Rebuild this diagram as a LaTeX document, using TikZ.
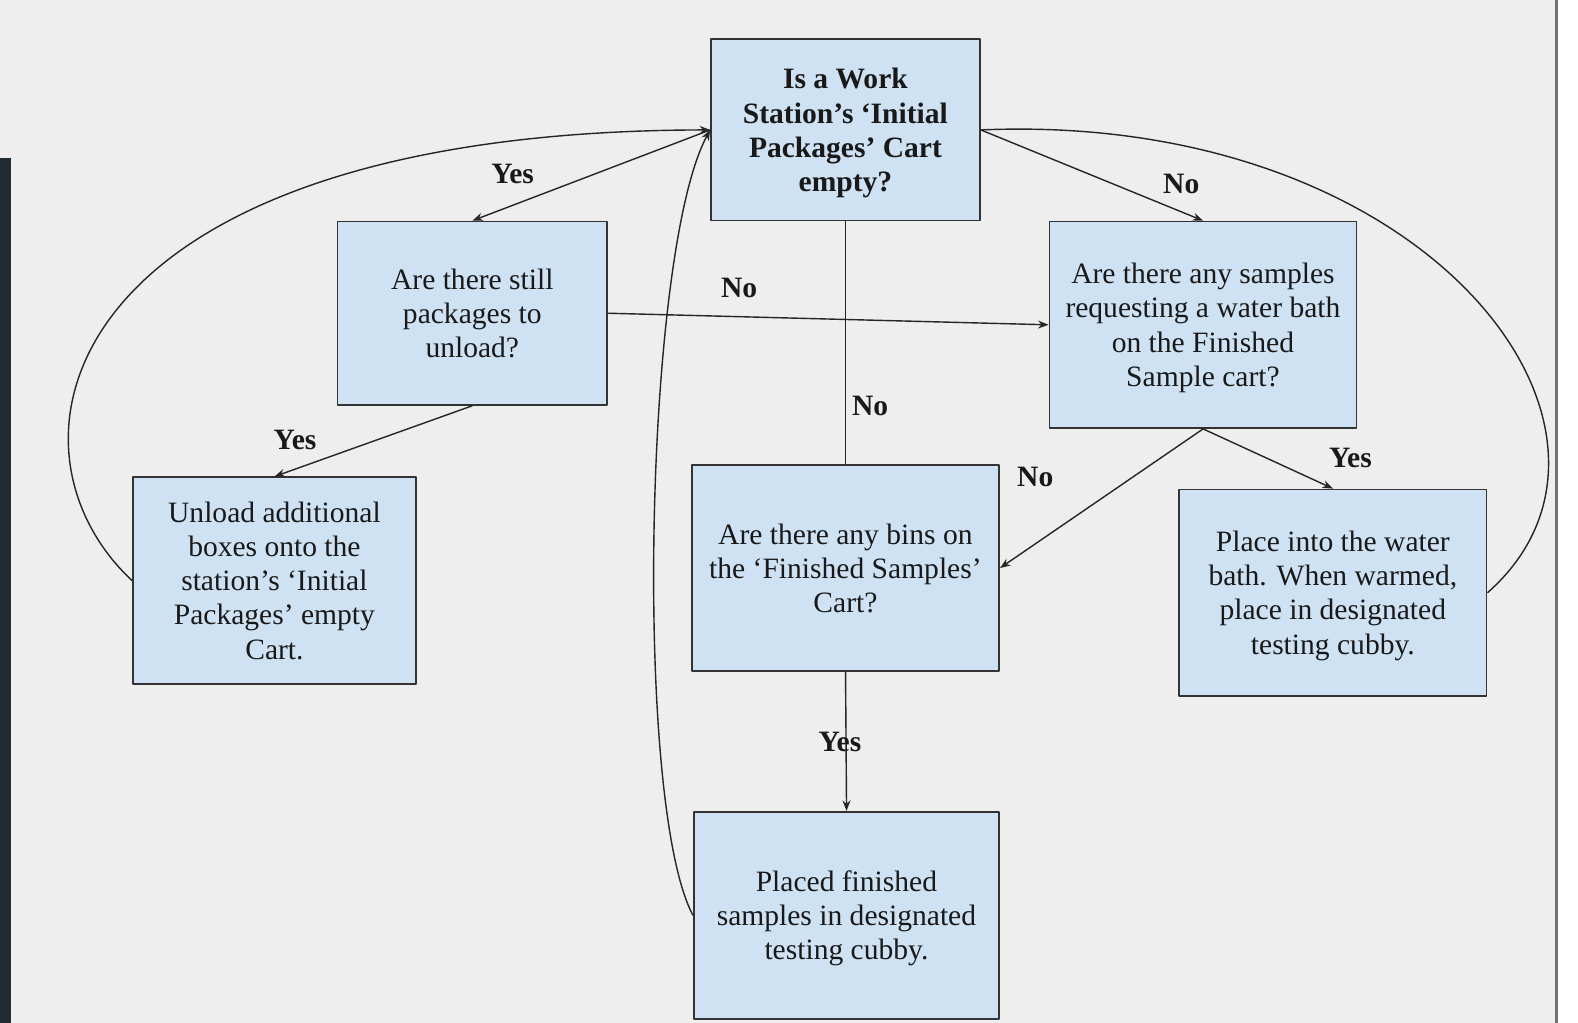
\documentclass[tikz,border=0pt]{standalone}
\usepackage{fontspec}
\setmainfont{Liberation Serif}
\usetikzlibrary{arrows.meta}
\definecolor{boxblue}{HTML}{CFE2F3}
\definecolor{canvas}{HTML}{EEEEEE}
\definecolor{darkstrip}{HTML}{222A33}
\definecolor{inkline}{HTML}{333333}
\tikzset{
  box/.style={draw=inkline,line width=1pt,fill=boxblue,align=center,inner sep=0pt,
    text depth=0pt,text=black!90,font=\fontsize{16.7}{19.3}\selectfont},
  ans/.style={text=black!90,font=\fontsize{16.7}{19.3}\selectfont\bfseries},
  link/.style={draw=black!85,line width=0.8pt,-{Stealth[length=6pt,width=4.5pt]}},
  bare/.style={draw=black!85,line width=0.8pt},
}
\begin{document}
\begin{tikzpicture}[x=0.02cm,y=-0.02cm,line join=round]
  \useasboundingbox (0,0) rectangle (1578,1023);
  \fill[canvas] (0,0) rectangle (1556,1023);
  \fill[white] (1557,0) rectangle (1578,1023);
  \fill[black!55] (1555,0) rectangle (1557.5,1023);
  \fill[darkstrip] (0,158) rectangle (11,1023);
  \begin{scope}[scale=1.00705,transform shape]
  \node[box,minimum width=5.34cm,minimum height=3.60cm] (Q1) at (839.5,129)
    {\bfseries Is a Work\\\bfseries Station’s ‘Initial\\\bfseries Packages’ Cart\\\bfseries empty?};
  \node[box,minimum width=5.36cm,minimum height=3.64cm] (Q2) at (469,311)
    {Are there still\\packages to\\unload?};
  \node[box,minimum width=6.10cm,minimum height=4.10cm] (Q3) at (1194.5,322.5)
    {Are there any samples\\requesting a water bath\\on the Finished\\Sample cart?};
  \node[box,minimum width=5.62cm,minimum height=4.10cm] (A1) at (272.5,576.5)
    {Unload additional\\boxes onto the\\station’s ‘Initial\\Packages’ empty\\Cart.};
  \node[box,minimum width=6.10cm,minimum height=4.08cm] (Q4) at (839.5,564)
    {Are there any bins on\\the ‘Finished Samples’\\Cart?};
  \node[box,minimum width=6.10cm,minimum height=4.10cm] (A2) at (1323.5,588.5)
    {Place into the water\\bath. When warmed,\\place in designated\\testing cubby.};
  \node[box,minimum width=6.06cm,minimum height=4.12cm] (A3) at (840.5,909)
    {Placed finished\\samples in designated\\testing cubby.};
  \draw[link] (Q1.west) -- (Q2.north);
  \draw[link] (Q1.east) -- (Q3.north);
  \draw[link] (Q2.east) -- (Q3.west);
  \draw[bare] (Q1.south) -- (Q4.north);
  \draw[link] (Q2.south) -- (A1.north);
  \draw[link] (Q3.south) -- (Q4.east);
  \draw[link] (Q3.south) -- (A2.north);
  \draw[link] (Q4.south) -- (A3.north);
  \draw[link] (A1.west) .. controls +(-146,-136.5) and +(-646,1) .. (Q1.west);
  \draw[bare] (A2.east) .. controls +(180,-158.5) and +(447,-19) .. (Q1.east);
  \draw[link] (A3.west) .. controls +(-59,-109) and +(-66,121) .. (Q1.west);
  \node[ans] (yes1) at (509,173) {Yes};
  \node[ans] (no1) at (1173,183) {No};
  \node[ans] (no2) at (734,286) {No};
  \node[ans] (no3) at (864,403) {No};
  \node[ans] (yes2) at (293,437) {Yes};
  \node[ans] (no4) at (1028,474) {No};
  \node[ans] (yes3) at (1341,455) {Yes};
  \node[ans] (yes4) at (834,737) {Yes};
  \end{scope}
\end{tikzpicture}
\end{document}
